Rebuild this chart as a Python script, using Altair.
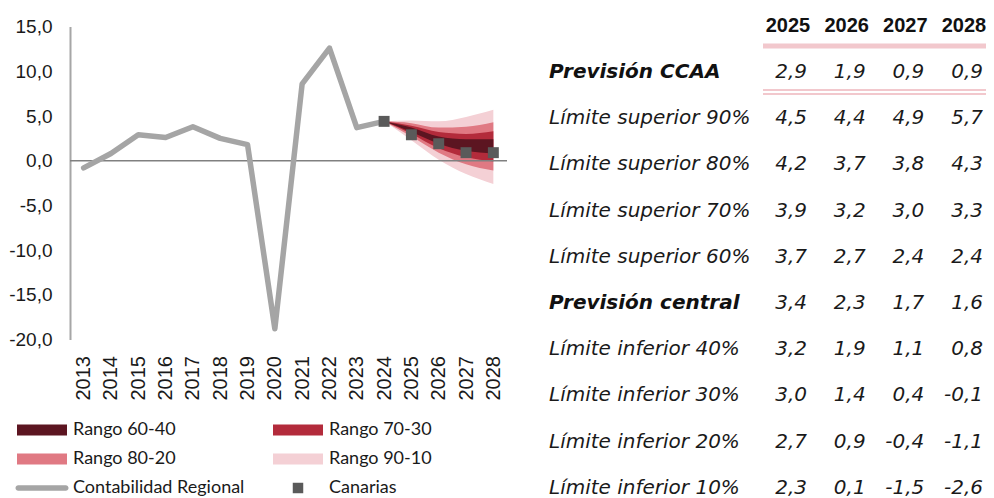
import altair as alt
import pandas as pd

# ---------------- data ----------------
hist_years = [2013, 2014, 2015, 2016, 2017, 2018, 2019, 2020, 2021, 2022, 2023, 2024]
hist_values = [-0.8, 0.8, 2.9, 2.6, 3.8, 2.5, 1.8, -18.8, 8.6, 12.6, 3.7, 4.4]

fc_years = [2025, 2026, 2027, 2028]
prev_ccaa = [2.9, 1.9, 0.9, 0.9]
sup90 = [4.5, 4.4, 4.9, 5.7]
sup80 = [4.2, 3.7, 3.8, 4.3]
sup70 = [3.9, 3.2, 3.0, 3.3]
sup60 = [3.7, 2.7, 2.4, 2.4]
central = [3.4, 2.3, 1.7, 1.6]
inf40 = [3.2, 1.9, 1.1, 0.8]
inf30 = [3.0, 1.4, 0.4, -0.1]
inf20 = [2.7, 0.9, -0.4, -1.1]
inf10 = [2.3, 0.1, -1.5, -2.6]

canarias_years = [2024, 2025, 2026, 2027, 2028]
canarias_values = [4.4, 2.9, 1.9, 0.9, 0.9]

band_names = ["Rango 60-40", "Rango 70-30", "Rango 80-20", "Rango 90-10"]
band_colors = ["#5c1521", "#b32b3b", "#e07983", "#f4d0d5"]

row_labels = ["Previsión CCAA", "Límite superior 90%", "Límite superior 80%",
              "Límite superior 70%", "Límite superior 60%", "Previsión central",
              "Límite inferior 40%", "Límite inferior 30%", "Límite inferior 20%",
              "Límite inferior 10%"]
row_values = [prev_ccaa, sup90, sup80, sup70, sup60, central, inf40, inf30, inf20, inf10]
bold_rows = ["Previsión CCAA", "Previsión central"]

legend_labels = ["Rango 60-40", "Rango 70-30", "Rango 80-20", "Rango 90-10",
                 "Contabilidad Regional", "Canarias"]

# ---------------- frames ----------------
hist_df = pd.DataFrame({"year": hist_years, "value": hist_values})
can_df = pd.DataFrame({"year": canarias_years, "value": canarias_values})

anchor_year = hist_years[-1]
anchor_val = hist_values[-1]
band_bounds = {
    "Rango 90-10": (inf10, sup90),
    "Rango 80-20": (inf20, sup80),
    "Rango 70-30": (inf30, sup70),
    "Rango 60-40": (inf40, sup60),
}
band_frames = {}
for name, (lo, hi) in band_bounds.items():
    band_frames[name] = pd.DataFrame({
        "year": [anchor_year] + fc_years,
        "lo": [anchor_val] + lo,
        "hi": [anchor_val] + hi,
    })

fmt = lambda v: f"{v:.1f}".replace(".", ",")
tab_rows = []
for i, (lab, vals) in enumerate(zip(row_labels, row_values)):
    for y, v in zip(fc_years, vals):
        tab_rows.append({"row": i, "year": y, "txt": fmt(v)})
tab_df = pd.DataFrame(tab_rows)
head_df = pd.DataFrame({"row": [-1] * len(fc_years), "year": fc_years,
                        "txt": [str(y) for y in fc_years]})
lab_df = pd.DataFrame({"row": list(range(len(row_labels))), "label": row_labels})
lab_df["bold"] = lab_df["label"].isin(bold_rows)

leg_df = pd.DataFrame({
    "label": legend_labels,
    "col": [0, 1, 0, 1, 0, 1],
    "row": [0, 0, 1, 1, 2, 2],
})

# ---------------- style ----------------
AXIS_FONT = "Liberation Sans"
LEG_FONT = "Lato"
TAB_FONT = "DejaVu Sans"
W = 978
H = 490

X = alt.Scale(domain=[2012.5, 2028.5], range=[62, 499], nice=False, zero=False)
Y = alt.Scale(domain=[-20, 15], range=[331.5, 18.6], nice=False, zero=False)

x_axis = alt.Axis(values=hist_years + fc_years, format="d", labelAngle=270,
                  orient="bottom", offset=-(H - 331.5), domain=False, ticks=False,
                  grid=False, labelPadding=16, labelFont=AXIS_FONT, labelFontSize=20,
                  labelColor="#1a1a1a", labelOverlap=False, labelFlush=False, title=None)
y_axis = alt.Axis(values=[-20, -15, -10, -5, 0, 5, 10, 15],
                  labelExpr="toString(datum.value) + ',0'",
                  orient="left", offset=-62, domain=True, domainColor="#a6a6a6",
                  domainWidth=2, ticks=False, grid=False, labelPadding=18,
                  labelFont=AXIS_FONT, labelFontSize=19, labelColor="#1a1a1a",
                  labelOverlap=False, labelFlush=False, title=None)

# ---------------- main plot ----------------
band_layers = []
for name in ["Rango 90-10", "Rango 80-20", "Rango 70-30", "Rango 60-40"]:
    col = band_colors[band_names.index(name)]
    band_layers.append(
        alt.Chart(band_frames[name]).mark_area(color=col, opacity=1, interpolate="monotone").encode(
            x=alt.X("year:Q", scale=X, axis=x_axis),
            y=alt.Y("lo:Q", scale=Y, axis=y_axis),
            y2="hi:Q",
        )
    )

zero_rule = alt.Chart(pd.DataFrame({"v": [0]})).mark_rule(color="#808080", strokeWidth=1.5).encode(
    x=alt.datum(2012.5, scale=X), x2=alt.datum(2028.5), y=alt.Y("v:Q", scale=Y)
)

hist_line = alt.Chart(hist_df).mark_line(color="#a5a5a5", strokeWidth=5.5, strokeCap="round",
                                         strokeJoin="round").encode(
    x=alt.X("year:Q", scale=X), y=alt.Y("value:Q", scale=Y)
)

can_pts = alt.Chart(can_df).mark_square(size=120, color="#5a5a5a", opacity=1).encode(
    x=alt.X("year:Q", scale=X), y=alt.Y("value:Q", scale=Y)
)

main = alt.layer(*band_layers, zero_rule, hist_line, can_pts)

# ---------------- table ----------------
TX = alt.Scale(domain=[2025, 2028], range=[799, 975], nice=False, zero=False)
TY = alt.Scale(domain=[-1, 9], range=[17.8, 479.8], nice=False, zero=False)

nums = alt.Chart(tab_df).mark_text(align="right", baseline="middle", font=TAB_FONT,
                                   fontSize=20, fontStyle="italic", color="#1a1a1a").encode(
    x=alt.X("year:Q", scale=TX, axis=None), y=alt.Y("row:Q", scale=TY, axis=None), text="txt:N"
)
heads = alt.Chart(head_df).mark_text(align="center", baseline="middle", dx=-19,
                                     font="Liberation Sans", fontSize=20, fontWeight="bold",
                                     color="#111111").encode(
    x=alt.X("year:Q", scale=TX, axis=None), y=alt.Y("row:Q", scale=TY, axis=None), text="txt:N"
)
labs_n = alt.Chart(lab_df).transform_filter("!datum.bold").mark_text(
    align="left", baseline="middle", font=TAB_FONT, fontSize=20, fontStyle="italic",
    color="#1a1a1a").encode(
    x=alt.value(541), y=alt.Y("row:Q", scale=TY, axis=None), text="label:N"
)
labs_b = alt.Chart(lab_df).transform_filter("datum.bold").mark_text(
    align="left", baseline="middle", font=TAB_FONT, fontSize=20, fontStyle="italic",
    fontWeight="bold", color="#111111").encode(
    x=alt.value(541), y=alt.Y("row:Q", scale=TY, axis=None), text="label:N"
)
one = pd.DataFrame({"k": [0]})
pink = "#f2c8cd"
line_head = alt.Chart(one).mark_rule(color=pink, strokeWidth=5).encode(
    x=alt.value(755), x2=alt.value(W), y=alt.value(38))
line_d1 = alt.Chart(one).mark_rule(color=pink, strokeWidth=2).encode(
    x=alt.value(755), x2=alt.value(W), y=alt.value(82))
line_d2 = alt.Chart(one).mark_rule(color=pink, strokeWidth=2).encode(
    x=alt.value(755), x2=alt.value(W), y=alt.value(86))

table = alt.layer(line_head, line_d1, line_d2, heads, nums, labs_n, labs_b)

# ---------------- legend ----------------
LX = alt.Scale(domain=[0, 1], range=[34, 290], nice=False, zero=False)
LY = alt.Scale(domain=[0, 2], range=[422, 480], nice=False, zero=False)
lx = alt.X("col:Q", scale=LX, axis=None)
ly = alt.Y("row:Q", scale=LY, axis=None)

leg_rect = alt.Chart(leg_df).transform_filter(
    alt.FieldOneOfPredicate(field="label", oneOf=band_names)
).mark_rect(width=50, height=11).encode(
    x=lx, y=ly,
    color=alt.Color("label:N", scale=alt.Scale(domain=band_names, range=band_colors), legend=None),
)
leg_line = alt.Chart(leg_df).transform_filter(
    alt.datum.label == "Contabilidad Regional"
).mark_rect(width=53, height=5.5, cornerRadius=2.75, color="#a5a5a5").encode(x=lx, y=ly)
leg_sq = alt.Chart(leg_df).transform_filter(
    alt.datum.label == "Canarias"
).mark_square(size=110, color="#5a5a5a", opacity=1).encode(x=lx, y=ly)
leg_txt = alt.Chart(leg_df).mark_text(align="left", baseline="middle", dx=31, font=LEG_FONT,
                                      fontSize=18, color="#1a1a1a").encode(
    x=lx, y=ly, text="label:N")

legend = alt.layer(leg_rect, leg_line, leg_sq, leg_txt)

chart = alt.layer(main, table, legend).resolve_scale(
    x="independent", y="independent", color="independent"
).properties(
    width=W, height=H, padding=0, autosize=alt.AutoSizeParams(type="none")
).configure_view(stroke=None)

chart.save("out.html", embed_options={"renderer": "svg", "actions": False})
